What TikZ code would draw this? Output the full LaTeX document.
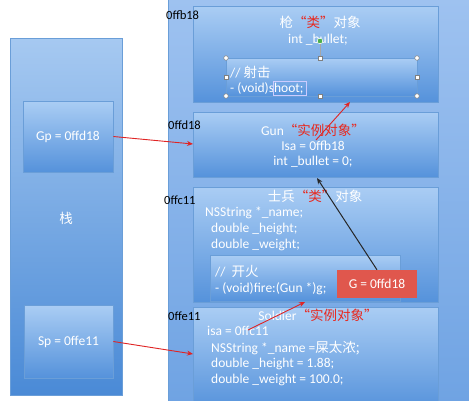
\documentclass[tikz,border=0pt]{standalone}
\usepackage{fontspec}
\setmainfont{Carlito}
\newfontfamily\cjk{Noto Sans CJK SC}
\usetikzlibrary{arrows.meta}
\definecolor{stackTop}{HTML}{A6C9F1}
\definecolor{stackBot}{HTML}{4A8AD6}
\definecolor{heapTop}{HTML}{9EC2F0}
\definecolor{heapBot}{HTML}{6FA3E3}
\definecolor{boxTop}{HTML}{AACDF4}
\definecolor{boxBot}{HTML}{5592DB}
\definecolor{boxEdge}{HTML}{6A9ED8}
\definecolor{qred}{HTML}{E8281E}
\definecolor{arrRed}{HTML}{E02424}
\definecolor{gRed}{HTML}{E0574D}
\newcommand{\redq}[1]{{\color{qred}\cjk “#1”}}
\begin{document}
\begin{tikzpicture}[x=1pt,y=-1pt,
  bgbox/.style={rectangle,top color=stackTop,bottom color=stackBot,draw=boxEdge,line width=0.6pt,inner sep=0},
  heapbox/.style={rectangle,top color=heapTop,bottom color=heapBot,draw=boxEdge,line width=0.6pt,inner sep=0},
  objbox/.style={rectangle,top color=boxTop,bottom color=boxBot,draw=boxEdge,line width=0.6pt,inner sep=0},
  wtext/.style={text=white,font=\fontsize{13.5}{15}\selectfont,inner sep=0},
  wline/.style={wtext,anchor=west},
  addr/.style={text=black,font=\fontsize{12.5}{14}\selectfont,anchor=west,inner sep=0},
  redarrow/.style={draw=arrRed,line width=0.9pt,-{Stealth[length=6pt,width=5pt]}},
  blackarrow/.style={draw=black!85,line width=1pt,-{Stealth[length=6pt,width=5pt]}},
  handle/.style={draw=gray,fill=white,line width=0.5pt},
]
\useasboundingbox (0,0) rectangle (469,400);
\fill[white] (0,0) rectangle (469,400);

% stack
\node[bgbox,minimum width=112pt,minimum height=357pt] (stack) at (66,216.5) {};
\node[objbox,minimum width=90pt,minimum height=71pt] (gp) at (68,136.5) {};
\node[objbox,minimum width=89pt,minimum height=73pt] (sp) at (68.5,341.5) {};
\node[wtext] (stacklbl) at (66,218) {\cjk 栈};
\node[wtext] (gptxt) at (68,137) {Gp = 0ffd18};
\node[wtext] (sptxt) at (68.5,342) {Sp = 0ffe11};

% heap
\node[heapbox,minimum width=304pt,minimum height=404pt] (heap) at (320,201) {};

% Gun class
\node[objbox,minimum width=245pt,minimum height=96pt] (gunclass) at (315.5,54) {};
\node[objbox,minimum width=191pt,minimum height=38pt] (gunmeth) at (321.5,77) {};
\node[wtext] (gct) at (320,22) {{\cjk 枪}\redq{类}{\cjk 对象}};
\node[wtext] (gcb) at (318,40) {int \_bullet;};
\node[wline] (gcm1) at (230,72) {// {\cjk 射击}};
\node[wline] (gcm2) at (230,88) {- (void)shoot;};
\draw[white!80!blue,line width=0.4pt] (273.5,81) rectangle (306,95);
% selection handles
\draw[gray!70,line width=0.5pt] (320,41) -- (320,58);
\fill[green!55!black!70] (320,41) circle (2.8pt);
\draw[white,line width=0.5pt] (320,41) circle (2.8pt);
\foreach \p in {(226,58),(417,58),(226,96),(417,96)} \draw[handle] \p circle (2.3pt);
\foreach \p in {(320,58),(226,77),(417,77),(320,96)} \draw[handle] \p ++(-2.2,-2.2) rectangle ++(4.4,4.4);

% Gun instance
\node[objbox,minimum width=245pt,minimum height=65pt] (guninst) at (315.5,144.5) {};
\node[wtext] (git) at (313,130) {Gun\redq{实例对象}};
\node[wtext] (gii) at (313,146) {Isa = 0ffb18};
\node[wtext] (gib) at (313,162) {int \_bullet = 0;};

% Soldier class
\node[objbox,minimum width=245pt,minimum height=115pt] (soldclass) at (315.5,244.5) {};
\node[objbox,minimum width=190pt,minimum height=46pt] (soldmeth) at (305,278) {};
\node[wtext] (sct) at (315,196) {{\cjk 士兵}\redq{类}{\cjk 对象}};
\node[wline] (sc1) at (205,213) {NSString *\_name;};
\node[wline] (sc2) at (211,229) {double \_height;};
\node[wline] (sc3) at (211,245) {double \_weight;};
\node[wline] (scm1) at (215,271) {// \ {\cjk 开火}};
\node[wline] (scm2) at (215,289) {- (void)fire:(Gun *)g;};
\node[rectangle,fill=gRed,minimum width=80pt,minimum height=28pt,inner sep=0,text=white,font=\fontsize{13.5}{15}\selectfont] (gbox) at (377,284) {G = 0ffd18};

% Soldier instance
\node[objbox,minimum width=245pt,minimum height=103pt] (soldinst) at (315.5,358.5) {};
\node[wtext] (sit) at (318,315) {Soldier\redq{实例对象}};
\node[wline] (si1) at (207,331) {isa = 0ffc11};
\node[wline] (si2) at (211,348) {NSString *\_name =\cjk 屎太浓;};
\node[wline] (si3) at (211,364) {double \_height = 1.88;};
\node[wline] (si4) at (211,380) {double \_weight = 100.0;};

% address labels
\node[addr] (a1) at (166,15) {0ffb18};
\node[addr] (a2) at (168,125) {0ffd18};
\node[addr] (a3) at (164,200) {0ffc11};
\node[addr] (a4) at (168,316) {0ffe11};

% arrows
\coordinate (gunL) at (193,144);
\coordinate (soldL) at (193,354);
\coordinate (isaA) at (316,140);
\coordinate (gunclassB) at (350,102);
\coordinate (isaB) at (248,330);
\coordinate (soldclassB) at (305,302);
\coordinate (guninstB) at (317,178);
\draw[redarrow] (gp.east) -- (gunL);
\draw[redarrow] (sp.east) -- (soldL);
\draw[redarrow] (isaA) -- (gunclassB);
\draw[redarrow] (isaB) -- (soldclassB);
\draw[blackarrow] (gbox.north) -- (guninstB);
\end{tikzpicture}
\end{document}
